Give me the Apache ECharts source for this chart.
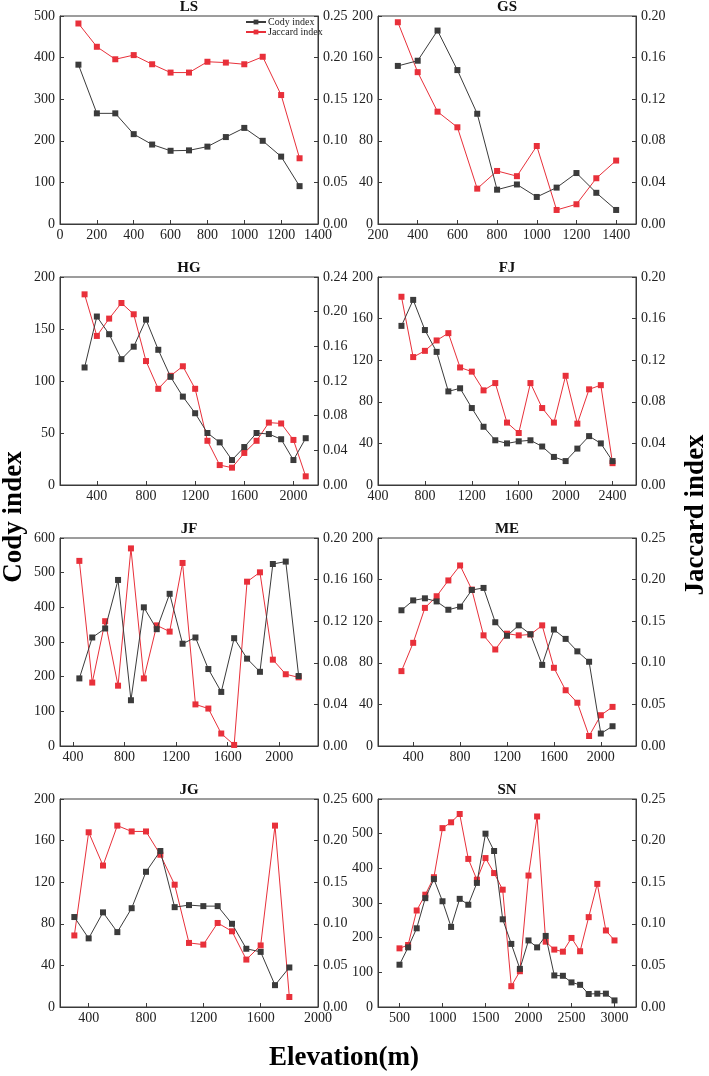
<!DOCTYPE html>
<html>
<head>
<meta charset="utf-8">
<script src="https://cdn.jsdelivr.net/npm/echarts@6/dist/echarts.min.js"></script>
<style>
html,body{margin:0;padding:0;background:#fff;}
#chart{width:709px;height:1076px;}
</style>
</head>
<body>
<div id="chart"></div>
<script>
// ---------- DATA ----------
const panelNames = ['LS','GS','HG','FJ','JF','ME','JG','SN'];

const elevLS = [100,200,300,400,500,600,700,800,900,1000,1100,1200,1300];
const codyLS = [383,266,266,216,191,176,177,186,209,231,200,162,91];
const jaccardLS = [0.241,0.213,0.198,0.203,0.192,0.182,0.182,0.195,0.194,0.192,0.201,0.155,0.079];

const elevGS = [300,400,500,600,700,800,900,1000,1100,1200,1300,1400];
const codyGS = [152,157,186,148,106,33,38,26,35,49,30,13.5];
const jaccardGS = [0.194,0.146,0.108,0.093,0.034,0.051,0.046,0.075,0.0135,0.019,0.044,0.061];

const elevHG = [300,400,500,600,700,800,900,1000,1100,1200,1300,1400,1500,1600,1700,1800,1900,2000,2100];
const codyHG = [113,162,145,121,133,159,130,104,85,69,50,41,24,36.5,50,49,44,24,45];
const jaccardHG = [0.220,0.172,0.192,0.210,0.197,0.143,0.111,0.126,0.137,0.111,0.051,0.023,0.020,0.037,0.051,0.072,0.071,0.052,0.010];

const elevFJ = [600,700,800,900,1000,1100,1200,1300,1400,1500,1600,1700,1800,1900,2000,2100,2200,2300,2400];
const codyFJ = [153,178,149,128,90,93,74,56,43,40,42,43,37,27,23,35,47,40,23];
const jaccardFJ = [0.181,0.123,0.129,0.139,0.146,0.113,0.109,0.091,0.098,0.060,0.050,0.098,0.074,0.060,0.105,0.059,0.092,0.096,0.021];

const elevJF = [450,550,650,750,850,950,1050,1150,1250,1350,1450,1550,1650,1750,1850,1950,2050,2150];
const codyJF = [195,313,339,479,132,400,337,439,295,313,222,156,311,252,214,525,532,202];
const jaccardJF = [0.178,0.061,0.120,0.058,0.190,0.065,0.116,0.110,0.176,0.040,0.036,0.012,0.001,0.158,0.167,0.083,0.069,0.066];

const elevME = [300,400,500,600,700,800,900,1000,1100,1200,1300,1400,1500,1600,1700,1800,1900,2000,2100];
const codyME = [130.5,140,142,139,131,134,150,152,119,106,116,107.5,78,112,103,91,81,12,19];
const jaccardME = [0.090,0.124,0.166,0.180,0.199,0.217,0.188,0.133,0.116,0.135,0.133,0.134,0.145,0.094,0.067,0.052,0.012,0.037,0.047];

const elevJG = [300,400,500,600,700,800,900,1000,1100,1200,1300,1400,1500,1600,1700,1800];
const codyJG = [86.5,66,91,72,95,130,150,96,98,97,97,80,56,53,21,38];
const jaccardJG = [0.086,0.210,0.170,0.218,0.211,0.211,0.183,0.147,0.077,0.075,0.101,0.091,0.057,0.074,0.218,0.012];

const elevSN = [500,600,700,800,900,1000,1100,1200,1300,1400,1500,1600,1700,1800,1900,2000,2100,2200,2300,2400,2500,2600,2700,2800,2900,3000];
const codySN = [122,172,227,314,369,305,231,312,295,358,500,450,253,182,110,192,172,205,91,90,71,64,37.5,38.5,38.5,19];
const jaccardSN = [0.0705,0.0745,0.116,0.135,0.156,0.215,0.222,0.232,0.178,0.153,0.179,0.161,0.141,0.025,0.043,0.158,0.229,0.0785,0.069,0.0665,0.083,0.067,0.108,0.148,0.092,0.080];

// axis ranges / tick labels
const xMinArr = [0,200,100,400,300,100,200,250];
const xMaxArr = [1400,1500,2200,2600,2300,2300,2000,3250];
const xTickLabels = [
  [0,200,400,600,800,1000,1200,1400],
  [200,400,600,800,1000,1200,1400],
  [400,800,1200,1600,2000],
  [400,800,1200,1600,2000,2400],
  [400,800,1200,1600,2000],
  [400,800,1200,1600,2000],
  [400,800,1200,1600,2000],
  [500,1000,1500,2000,2500,3000]
];
const codyMax = [500,200,200,200,600,200,200,600];
const codyStep = [100,40,50,40,100,40,40,100];
const jaccardMax = [0.25,0.20,0.24,0.20,0.20,0.25,0.25,0.25];
const jaccardStep = [0.05,0.04,0.04,0.04,0.04,0.05,0.05,0.05];

const elevAll = [elevLS,elevGS,elevHG,elevFJ,elevJF,elevME,elevJG,elevSN];
const codyAll = [codyLS,codyGS,codyHG,codyFJ,codyJF,codyME,codyJG,codySN];
const jaccardAll = [jaccardLS,jaccardGS,jaccardHG,jaccardFJ,jaccardJF,jaccardME,jaccardJG,jaccardSN];

// ---------- LAYOUT ----------
const FONT = '"Liberation Serif","Times New Roman",serif';
const colLeft = [60, 378];
const rowTop = [16, 277, 538, 799];
const gW = 258, gH = 208;
const AX = '#3a3a3a';
const CODY_C = '#3b3b3b';
const JAC_C = '#e8303a';

const grids = [], xAxes = [], yAxes = [], series = [], titles = [];
panelNames.forEach((name, i) => {
  const c = i % 2, r = Math.floor(i / 2);
  grids.push({
    left: colLeft[c], top: rowTop[r], width: gW, height: gH,
    show: true, borderColor: AX, borderWidth: 1, backgroundColor: 'transparent'
  });
  titles.push({
    text: name,
    left: colLeft[c] + gW / 2, top: rowTop[r] - 16,
    textAlign: 'center',
    padding: 0,
    textStyle: {fontFamily: FONT, fontWeight: 'bold', fontSize: 15, color: '#111'}
  });
  xAxes.push({
    type: 'value', gridIndex: i, min: xMinArr[i], max: xMaxArr[i],
    axisLine: {show: true, onZero: false, lineStyle: {color: AX, width: 1}},
    axisTick: {show: true, inside: true, length: 4, customValues: xTickLabels[i], lineStyle: {color: AX}},
    axisLabel: {customValues: xTickLabels[i], color: '#222', fontFamily: FONT, fontSize: 14, margin: 4,
      formatter: v => String(v)},
    splitLine: {show: false}
  });
  yAxes.push({
    type: 'value', gridIndex: i, position: 'left', min: 0, max: codyMax[i], interval: codyStep[i],
    axisLine: {show: true, lineStyle: {color: AX, width: 1}},
    axisTick: {show: true, inside: true, length: 4, lineStyle: {color: AX}},
    axisLabel: {color: '#222', fontFamily: FONT, fontSize: 14, margin: 5,
      formatter: v => String(v)},
    splitLine: {show: false}
  });
  yAxes.push({
    type: 'value', gridIndex: i, position: 'right', min: 0, max: jaccardMax[i], interval: jaccardStep[i],
    axisLine: {show: true, lineStyle: {color: AX, width: 1}},
    axisTick: {show: true, inside: true, length: 4, lineStyle: {color: AX}},
    axisLabel: {color: '#222', fontFamily: FONT, fontSize: 14, margin: 5,
      formatter: v => v.toFixed(2)},
    splitLine: {show: false}
  });
  const e = elevAll[i];
  series.push({
    name: 'Cody index', type: 'line', xAxisIndex: i, yAxisIndex: 2 * i,
    data: e.map((x, k) => [x, codyAll[i][k]]),
    symbol: 'rect', symbolSize: 6,
    lineStyle: {color: CODY_C, width: 1},
    itemStyle: {color: CODY_C},
    z: 3, animation: false
  });
  series.push({
    name: 'Jaccard index', type: 'line', xAxisIndex: i, yAxisIndex: 2 * i + 1,
    data: e.map((x, k) => [x, jaccardAll[i][k]]),
    symbol: 'rect', symbolSize: 6,
    lineStyle: {color: JAC_C, width: 1},
    itemStyle: {color: JAC_C},
    z: 2, animation: false
  });
});

const chart = echarts.init(document.getElementById('chart'), null, {renderer: 'canvas'});
chart.setOption({
  backgroundColor: '#fff',
  animation: false,
  title: titles,
  grid: grids,
  xAxis: xAxes,
  yAxis: yAxes,
  series: series,
  legend: {
    data: ['Cody index', 'Jaccard index'],
    orient: 'vertical', left: 245, top: 17,
    itemWidth: 20, itemHeight: 6, itemGap: 0,
    padding: 0,
    textStyle: {fontFamily: FONT, fontSize: 10, color: '#222', padding: [0,0,0,-3]}
  },
  graphic: [
    {type: 'text', rotation: Math.PI / 2,
      x: 14, y: 517,
      style: {text: 'Cody index', font: 'bold 27px ' + FONT, fill: '#000', textAlign: 'center', textVerticalAlign: 'middle'}},
    {type: 'text', rotation: Math.PI / 2,
      x: 696, y: 515,
      style: {text: 'Jaccard index', font: 'bold 27px ' + FONT, fill: '#000', textAlign: 'center', textVerticalAlign: 'middle'}},
    {type: 'text',
      x: 344, y: 1058,
      style: {text: 'Elevation(m)', font: 'bold 27px ' + FONT, fill: '#000', textAlign: 'center', textVerticalAlign: 'middle'}}
  ]
});
</script>
</body>
</html>
